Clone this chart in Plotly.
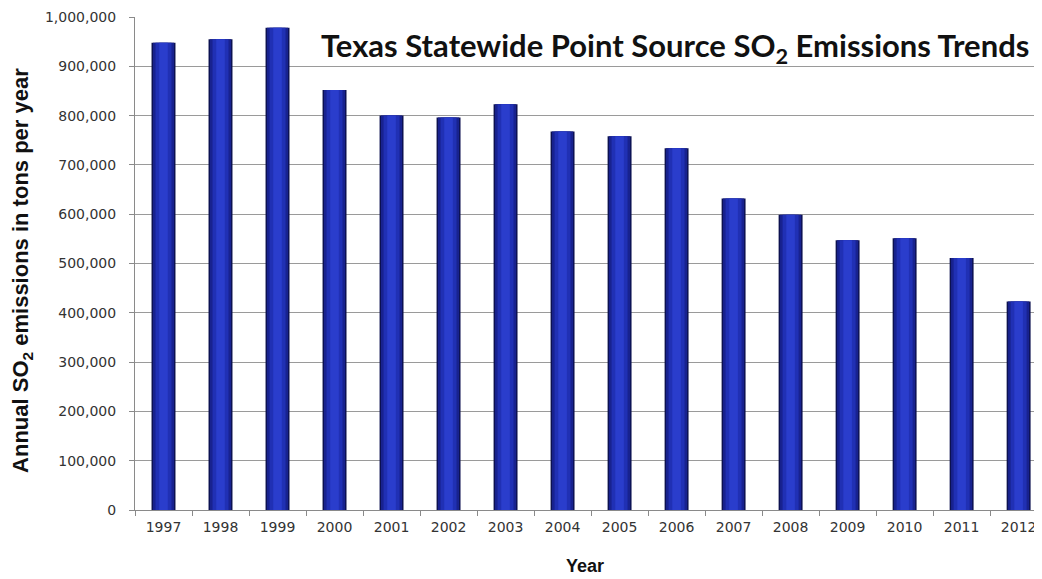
import plotly.graph_objects as go

years = ["1997", "1998", "1999", "2000", "2001", "2002", "2003", "2004",
         "2005", "2006", "2007", "2008", "2009", "2010", "2011", "2012"]
so2_tons = [948000, 955000, 978000, 852000, 800000, 796000, 823000, 768000,
            758000, 734000, 632000, 599000, 547000, 551000, 511000, 423000]
y_ticks = [0, 100000, 200000, 300000, 400000, 500000, 600000, 700000,
           800000, 900000, 1000000]
y_tick_labels = ["0", "100,000", "200,000", "300,000", "400,000", "500,000",
                 "600,000", "700,000", "800,000", "900,000", "1,000,000"]

fig = go.Figure()
# layered bars to mimic a cylindrical shading
layers = [(0.42, "#0c1150"), (0.37, "#18228f"), (0.28, "#2030b4"), (0.15, "#2a3dcc")]
for w, c in layers:
    fig.add_trace(go.Bar(x=years, y=so2_tons, width=w, marker=dict(color=c, line=dict(width=0)),
                         hoverinfo="skip", showlegend=False))

fig.update_layout(
    width=1034, height=571,
    margin=dict(l=127, r=0, t=9, b=69),
    barmode="overlay",
    plot_bgcolor="white", paper_bgcolor="white",
    font=dict(family="DejaVu Sans", color="#333333"),
    xaxis=dict(type="category", range=[-0.5, 15.41], showgrid=False,
               showline=True, linecolor="#8a8a8a", linewidth=1,
               ticks="outside", tickson="boundaries", ticklen=5, tickcolor="#8a8a8a",
               ticklabelstandoff=4,
               tickfont=dict(size=14, color="#333333")),
    yaxis=dict(range=[0, 1000000], tickvals=y_ticks, ticktext=y_tick_labels,
               showgrid=True, gridcolor="#9a9a9a", gridwidth=1,
               showline=True, linecolor="#8a8a8a", linewidth=1,
               ticks="outside", ticklen=5, tickcolor="#8a8a8a",
               ticklabelstandoff=10,
               tickfont=dict(size=14, color="#333333"), zeroline=False),
    annotations=[
        dict(text="Texas Statewide Point Source SO<sub>2</sub> Emissions Trends",
             xref="paper", yref="paper", x=0.595, y=0.939, xanchor="center", yanchor="middle",
             showarrow=False, font=dict(family="Lato", size=31, color="#111111", weight="bold")),
        dict(text="Annual SO<sub>2</sub> emissions in tons per year",
             xref="paper", yref="paper", x=-0.1246, y=0.487, xanchor="center", yanchor="middle",
             textangle=-90, showarrow=False,
             font=dict(family="Liberation Sans", size=22, color="#111111", weight="bold")),
        dict(text="Year", xref="paper", yref="paper", x=0.496, y=-0.1136,
             xanchor="center", yanchor="middle", showarrow=False,
             font=dict(family="Liberation Sans", size=18, color="#111111", weight="bold")),
    ],
)

fig.write_html("out.html")
